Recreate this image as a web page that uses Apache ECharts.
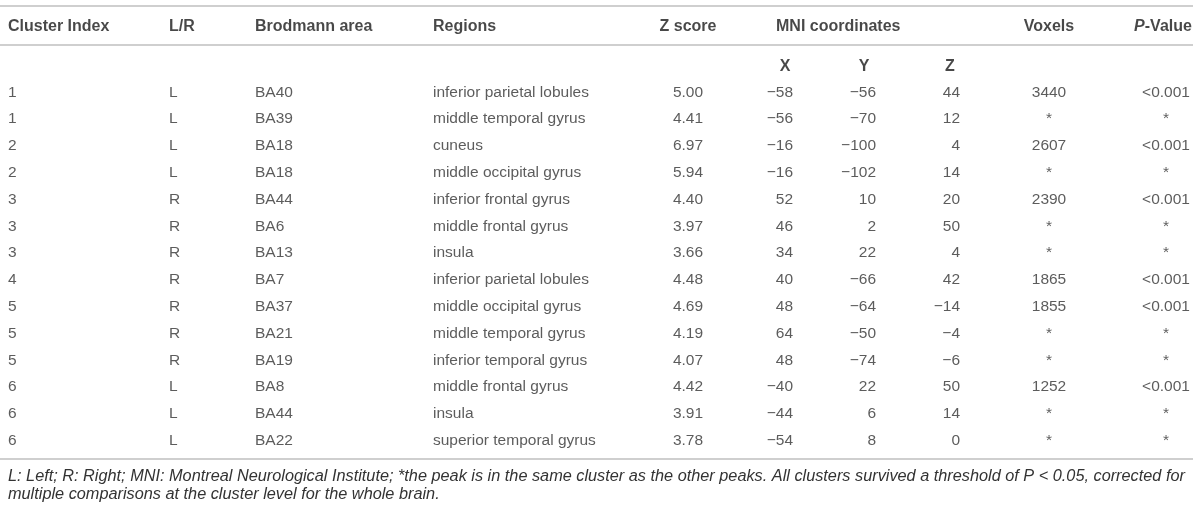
<!DOCTYPE html>
<html>
<head>
<meta charset="utf-8">
<title>Clusters</title>
<script src="https://cdn.jsdelivr.net/npm/echarts@6/dist/echarts.min.js"></script>
<style>
html,body{margin:0;padding:0;background:#fff;}
#main{width:1200px;height:511px;}
</style>
</head>
<body>
<div id="main"></div>
<script>
// table data
var headers=['Cluster Index','L/R','Brodmann area','Regions','Z score','MNI coordinates','Voxels','P-Value'];
var subHeaders=['X','Y','Z'];
var clusterIdx=['1','1','2','2','3','3','3','4','5','5','5','6','6','6'];
var side=['L','L','L','L','R','R','R','R','R','R','R','L','L','L'];
var brodmann=['BA40','BA39','BA18','BA18','BA44','BA6','BA13','BA7','BA37','BA21','BA19','BA8','BA44','BA22'];
var regions=['inferior parietal lobules','middle temporal gyrus','cuneus','middle occipital gyrus','inferior frontal gyrus','middle frontal gyrus','insula','inferior parietal lobules','middle occipital gyrus','middle temporal gyrus','inferior temporal gyrus','middle frontal gyrus','insula','superior temporal gyrus'];
var zScore=['5.00','4.41','6.97','5.94','4.40','3.97','3.66','4.48','4.69','4.19','4.07','4.42','3.91','3.78'];
var mniX=[-58,-56,-16,-16,52,46,34,40,48,64,48,-40,-44,-54];
var mniY=[-56,-70,-100,-102,10,2,22,-66,-64,-50,-74,22,6,8];
var mniZ=[44,12,4,14,20,50,4,42,-14,-4,-6,50,14,0];
var voxels=['3440','*','2607','*','2390','*','*','1865','1855','*','*','1252','*','*'];
var pValue=['<0.001','*','<0.001','*','<0.001','*','*','<0.001','<0.001','*','*','<0.001','*','*'];
var footnote='L: Left; R: Right; MNI: Montreal Neurological Institute; *the peak is in the same cluster as the other peaks. All clusters survived a threshold of P < 0.05, corrected for\nmultiple comparisons at the cluster level for the whole brain.';

// layout (x in px along the hidden axis, y in row units)
var headRow=-2.44, subRow=-0.95;
var rules=[-3.22,-1.77,13.68];
var FONT='"Liberation Sans", Arial, Helvetica, sans-serif';

function fmtNum(v){
	return v<0 ? '\u2212'+Math.abs(v) : String(v);
}

function cellSeries(x,row,texts,align,bold){
	var data=[];
	for(var i=0;i<texts.length;i++){
		data.push([x[i]!==undefined?x[i]:x, row===null?i:row]);
	}
	return {
		type:'scatter',
		symbolSize:0,
		silent:true,
		data:data,
		label:{
			show:true,
			position:[0,0],
			align:align,
			verticalAlign:'middle',
			fontFamily:FONT,
			fontSize:bold?16:15.5,
			fontWeight:bold?'bold':'normal',
			color:bold?'#1a1a1a':'#333',
			formatter:function(p){ return texts[p.dataIndex]; },
			rich:{
				i:{fontFamily:FONT,fontSize:16,fontStyle:'italic',fontWeight:'bold',color:'#1a1a1a'},
				b:{fontFamily:FONT,fontSize:16,fontWeight:'bold',color:'#1a1a1a'}
			}
		}
	};
}

var headTexts=headers.slice();
headTexts[7]='{i|P}{b|-Value}';
var headLeft=cellSeries([8,169,255,433,0,776,0,0],headRow,[headTexts[0],headTexts[1],headTexts[2],headTexts[3],'',headTexts[5],'',''],'left',true);
var headCenter=cellSeries([0,0,0,0,688,0,1049,1163],headRow,['','','','',headTexts[4],'',headTexts[6],headTexts[7]],'center',true);

var series=[
	headLeft,
	headCenter,
	cellSeries([785,864,950],subRow,subHeaders,'center',true),
	cellSeries(8,null,clusterIdx,'left',false),
	cellSeries(169,null,side,'left',false),
	cellSeries(255,null,brodmann,'left',false),
	cellSeries(433,null,regions,'left',false),
	cellSeries(688,null,zScore,'center',false),
	cellSeries(793,null,mniX.map(fmtNum),'right',false),
	cellSeries(876,null,mniY.map(fmtNum),'right',false),
	cellSeries(960,null,mniZ.map(fmtNum),'right',false),
	cellSeries(1049,null,voxels,'center',false),
	cellSeries(1166,null,pValue,'center',false)
];

// horizontal rules
series.push({
	type:'line',
	data:[],
	silent:true,
	markLine:{
		silent:true,
		symbol:'none',
		animation:false,
		label:{show:false},
		lineStyle:{color:'#cfcfcf',width:2,type:'solid'},
		data:rules.map(function(r){ return {yAxis:r}; })
	}
});

var myChart=echarts.init(document.getElementById('main'));
var option={
	animation:false,
	title:{
		text:footnote,
		left:8,
		top:467,
		padding:0,
		textStyle:{fontFamily:FONT,fontSize:16.3,fontStyle:'italic',fontWeight:'normal',color:'#333',lineHeight:18}
	},
	grid:{left:0,right:7,top:0,bottom:0},
	xAxis:{type:'value',min:0,max:1193,show:false},
	yAxis:{type:'value',min:-3.448,max:15.62,inverse:true,show:false},
	series:series
};
myChart.setOption(option);
</script>
</body>
</html>
